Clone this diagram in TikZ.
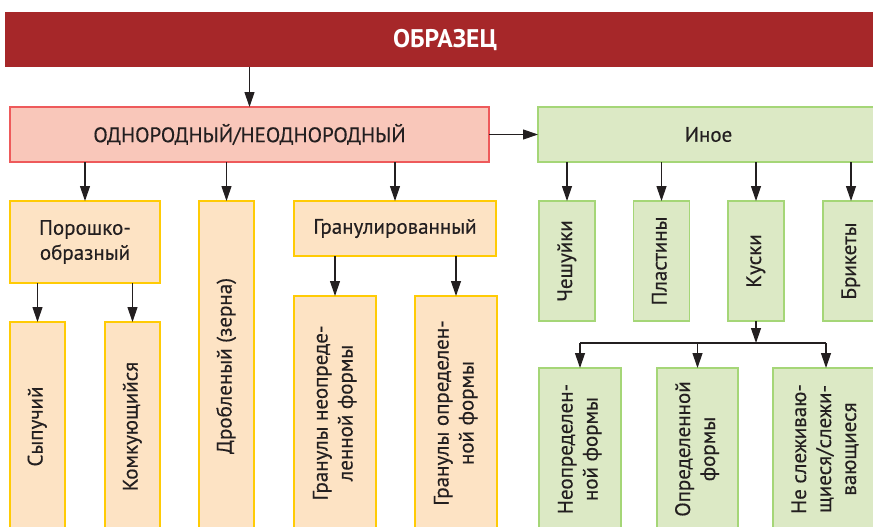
\documentclass[tikz,border=0pt]{standalone}
\usepackage{fontspec}
\setmainfont{PT Sans}
\newfontfamily\boxfont{PT Sans}[FakeBold=0.35]
\usepackage{graphicx}
\usetikzlibrary{arrows.meta}
\definecolor{bannerred}{RGB}{166,39,41}
\definecolor{redfill}{RGB}{249,199,186}
\definecolor{redline}{RGB}{238,90,91}
\definecolor{yelfill}{RGB}{253,227,196}
\definecolor{yelline}{RGB}{255,203,5}
\definecolor{grnfill}{RGB}{220,233,197}
\definecolor{grnline}{RGB}{165,214,119}
\definecolor{ink}{RGB}{35,31,32}
\newcommand\myvert[1]{\rotatebox{90}{\begin{tabular}{@{}c@{}}#1\end{tabular}}}
\tikzset{
  basebox/.style={inner sep=0pt, outer sep=0pt, line width=1.8pt, text=ink,
    font=\boxfont\fontsize{21}{25}\selectfont, align=center},
  redbox/.style={basebox, draw=redline, fill=redfill},
  ybox/.style={basebox, draw=yelline, fill=yelfill},
  gbox/.style={basebox, draw=grnline, fill=grnfill},
  arr/.style={draw=ink, line width=1.2pt, -{Triangle[width=10pt,length=15pt]}},
  conn/.style={draw=ink, line width=1.2pt},
}
\begin{document}
\begin{tikzpicture}[x=1pt,y=-1pt]
\useasboundingbox (0,0) rectangle (873,527);
% top banner
\node[inner sep=0pt, outer sep=0pt, fill=bannerred, text=white,
  font=\fontsize{25.5}{28}\selectfont\bfseries,
  minimum width=880pt, minimum height=55pt] (banner) at (445,39.5) {ОБРАЗЕЦ};
% level 1
\node[redbox, minimum width=479pt, minimum height=55pt] (odn) at (249.5,134.5) {ОДНОРОДНЫЙ/НЕОДНОРОДНЫЙ};
\node[gbox, minimum width=341pt, minimum height=55pt] (inoe) at (708.5,134.5) {Иное};
% level 2 left
\node[ybox, minimum width=150pt, minimum height=82pt] (por) at (85,242) {Порошко-\\образный};
\node[ybox, minimum width=55pt, minimum height=330pt] (drob) at (226.5,366) {\myvert{Дробленый (зерна)}};
\node[ybox, minimum width=202pt, minimum height=55pt] (gran) at (395,228.5) {Гранулированный};
% level 3 left
\node[ybox, minimum width=55pt, minimum height=209pt] (syp) at (37.5,426.5) {\myvert{Сыпучий}};
\node[ybox, minimum width=55pt, minimum height=209pt] (komk) at (132.5,426.5) {\myvert{Комкующийся}};
\node[ybox, minimum width=82pt, minimum height=234pt] (gr1) at (335,413) {\myvert{Гранулы неопреде-\\ленной формы}};
\node[ybox, minimum width=82pt, minimum height=234pt] (gr2) at (456,413) {\myvert{Гранулы определен-\\ной формы}};
% level 2 right
\node[gbox, minimum width=56pt, minimum height=120pt] (chesh) at (567,261) {\myvert{Чешуйки}};
\node[gbox, minimum width=56pt, minimum height=120pt] (plast) at (661.5,261) {\myvert{Пластины}};
\node[gbox, minimum width=56pt, minimum height=120pt] (kuski) at (756,261) {\myvert{Куски}};
\node[gbox, minimum width=56pt, minimum height=120pt] (brik) at (851,261) {\myvert{Брикеты}};
% level 3 right
\node[gbox, minimum width=82pt, minimum height=162pt] (lo1) at (580,449) {\myvert{Неопределен-\\ной формы}};
\node[gbox, minimum width=81pt, minimum height=162pt] (lo2) at (697.5,449) {\myvert{Определенной\\формы}};
\node[gbox, minimum width=106pt, minimum height=162pt] (lo3) at (826,449) {\myvert{Не слеживаю-\\щиеся/слежи-\\вающиеся}};
% connectors
\draw[arr] (banner.south -| odn.north) -- (odn.north);
\draw[arr] (odn.east) -- (inoe.west);
\draw[arr] (odn.south -| por.north) -- (por.north);
\draw[arr] (odn.south -| drob.north) -- (drob.north);
\draw[arr] (odn.south -| gran.north) -- (gran.north);
\draw[arr] (por.south -| syp.north) -- (syp.north);
\draw[arr] (por.south -| komk.north) -- (komk.north);
\draw[arr] (gran.south -| gr1.north) -- (gr1.north);
\draw[arr] (gran.south -| gr2.north) -- (gr2.north);
\draw[arr] (inoe.south -| chesh.north) -- (chesh.north);
\draw[arr] (inoe.south -| plast.north) -- (plast.north);
\draw[arr] (inoe.south -| kuski.north) -- (kuski.north);
\draw[arr] (inoe.south -| brik.north) -- (brik.north);
\coordinate (kj) at (756,343);
\draw[arr] (kuski.south) -- (kj);
\draw[conn] (lo1.north |- kj) -- (lo3.north |- kj);
\draw[arr] (lo1.north |- kj) -- (lo1.north);
\draw[arr] (lo2.north |- kj) -- (lo2.north);
\draw[arr] (lo3.north |- kj) -- (lo3.north);
\end{tikzpicture}
\end{document}
